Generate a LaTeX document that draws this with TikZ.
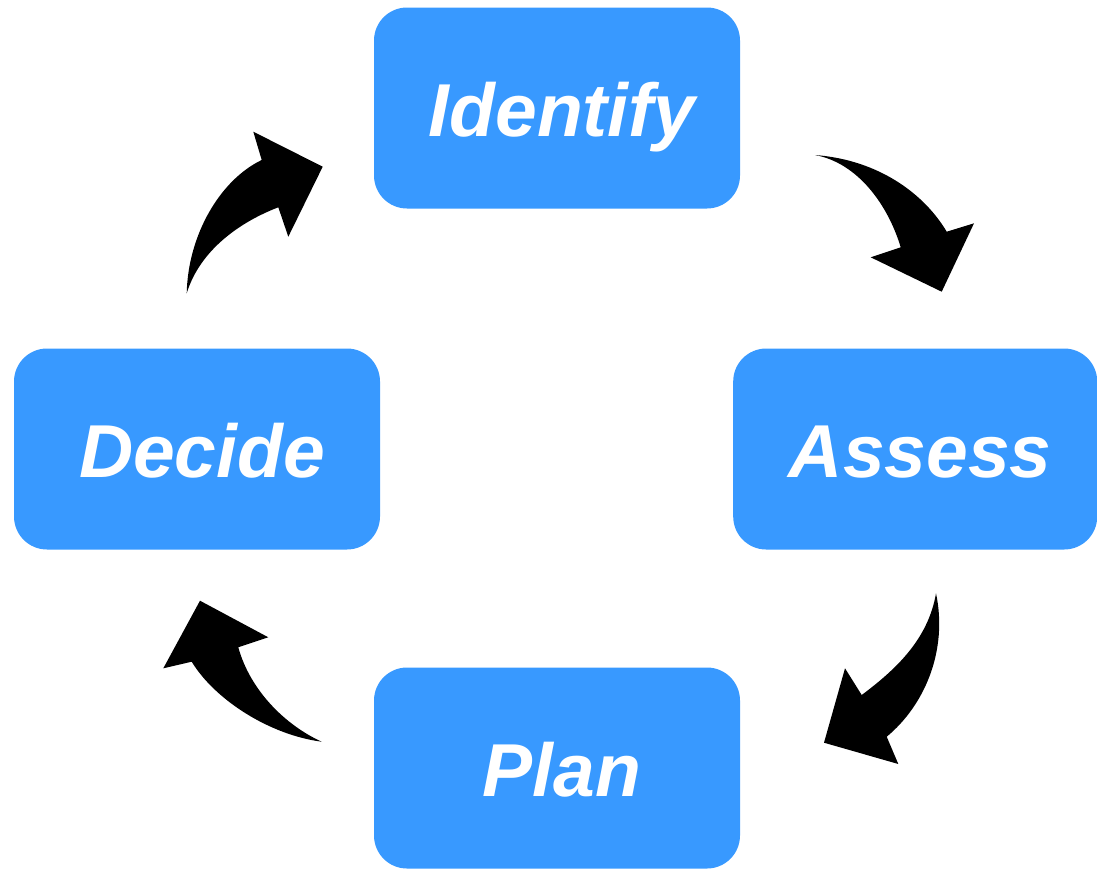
\documentclass[tikz,border=0pt]{standalone}
\usepackage{fontspec}
\setmainfont{Liberation Sans}
\definecolor{boxblue}{RGB}{56,153,255}
\tikzset{
  stagebox/.style={fill=boxblue, draw=none, rounded corners=33pt,
    minimum width=366pt, minimum height=201pt, inner sep=0pt,
    text=white, font=\fontsize{75}{90}\selectfont\bfseries\itshape,
    text height=56pt, text depth=0pt,
    execute at begin node={\hspace*{10pt}}},
  wedge/.style={fill=black, draw=none}
}
\begin{document}
\begin{tikzpicture}[x=1pt,y=-1pt]
\useasboundingbox (0,0) rectangle (1097,868);
\node[stagebox] (identify) at (557,108) {Identify};
\node[stagebox] (decide) at (197,449) {Decide};
\node[stagebox, minimum width=364pt] (assess) at (915.2,449) {Assess};
\node[stagebox] (plan) at (557,768) {Plan};
% Decide -> Identify
\fill[wedge] (186.7,293.3) .. controls (188,235) and (220,180) .. (261.7,160)
  -- (253.3,131.7) -- (322.7,166.7) -- (288.3,236.7) -- (278.3,207.3)
  .. controls (240,222) and (200,250) .. (186.7,293.3) -- cycle;
% Identify -> Assess
\fill[wedge] (815,155) .. controls (880,160) and (925,195) .. (946.7,231.7)
  -- (974,223.3) -- (941.7,291.7) -- (870.7,257.3) -- (900.7,247.3)
  .. controls (888,205) and (858,163) .. (815,155) -- cycle;
% Assess -> Plan
\fill[wedge] (936,593.3) .. controls (948,650) and (925,705) .. (886.7,736.7)
  -- (898.3,764) -- (824,742.7) -- (845,668.3) -- (861.7,695)
  .. controls (895,670) and (928,640) .. (936,593.3) -- cycle;
% Plan -> Decide
\fill[wedge] (321.7,741.7) .. controls (270,735) and (215,700) .. (191.7,661.7)
  -- (163.3,668.3) -- (200,600.7) -- (268.3,637.3) -- (238.3,647.3)
  .. controls (250,690) and (285,725) .. (321.7,741.7) -- cycle;
\end{tikzpicture}
\end{document}
